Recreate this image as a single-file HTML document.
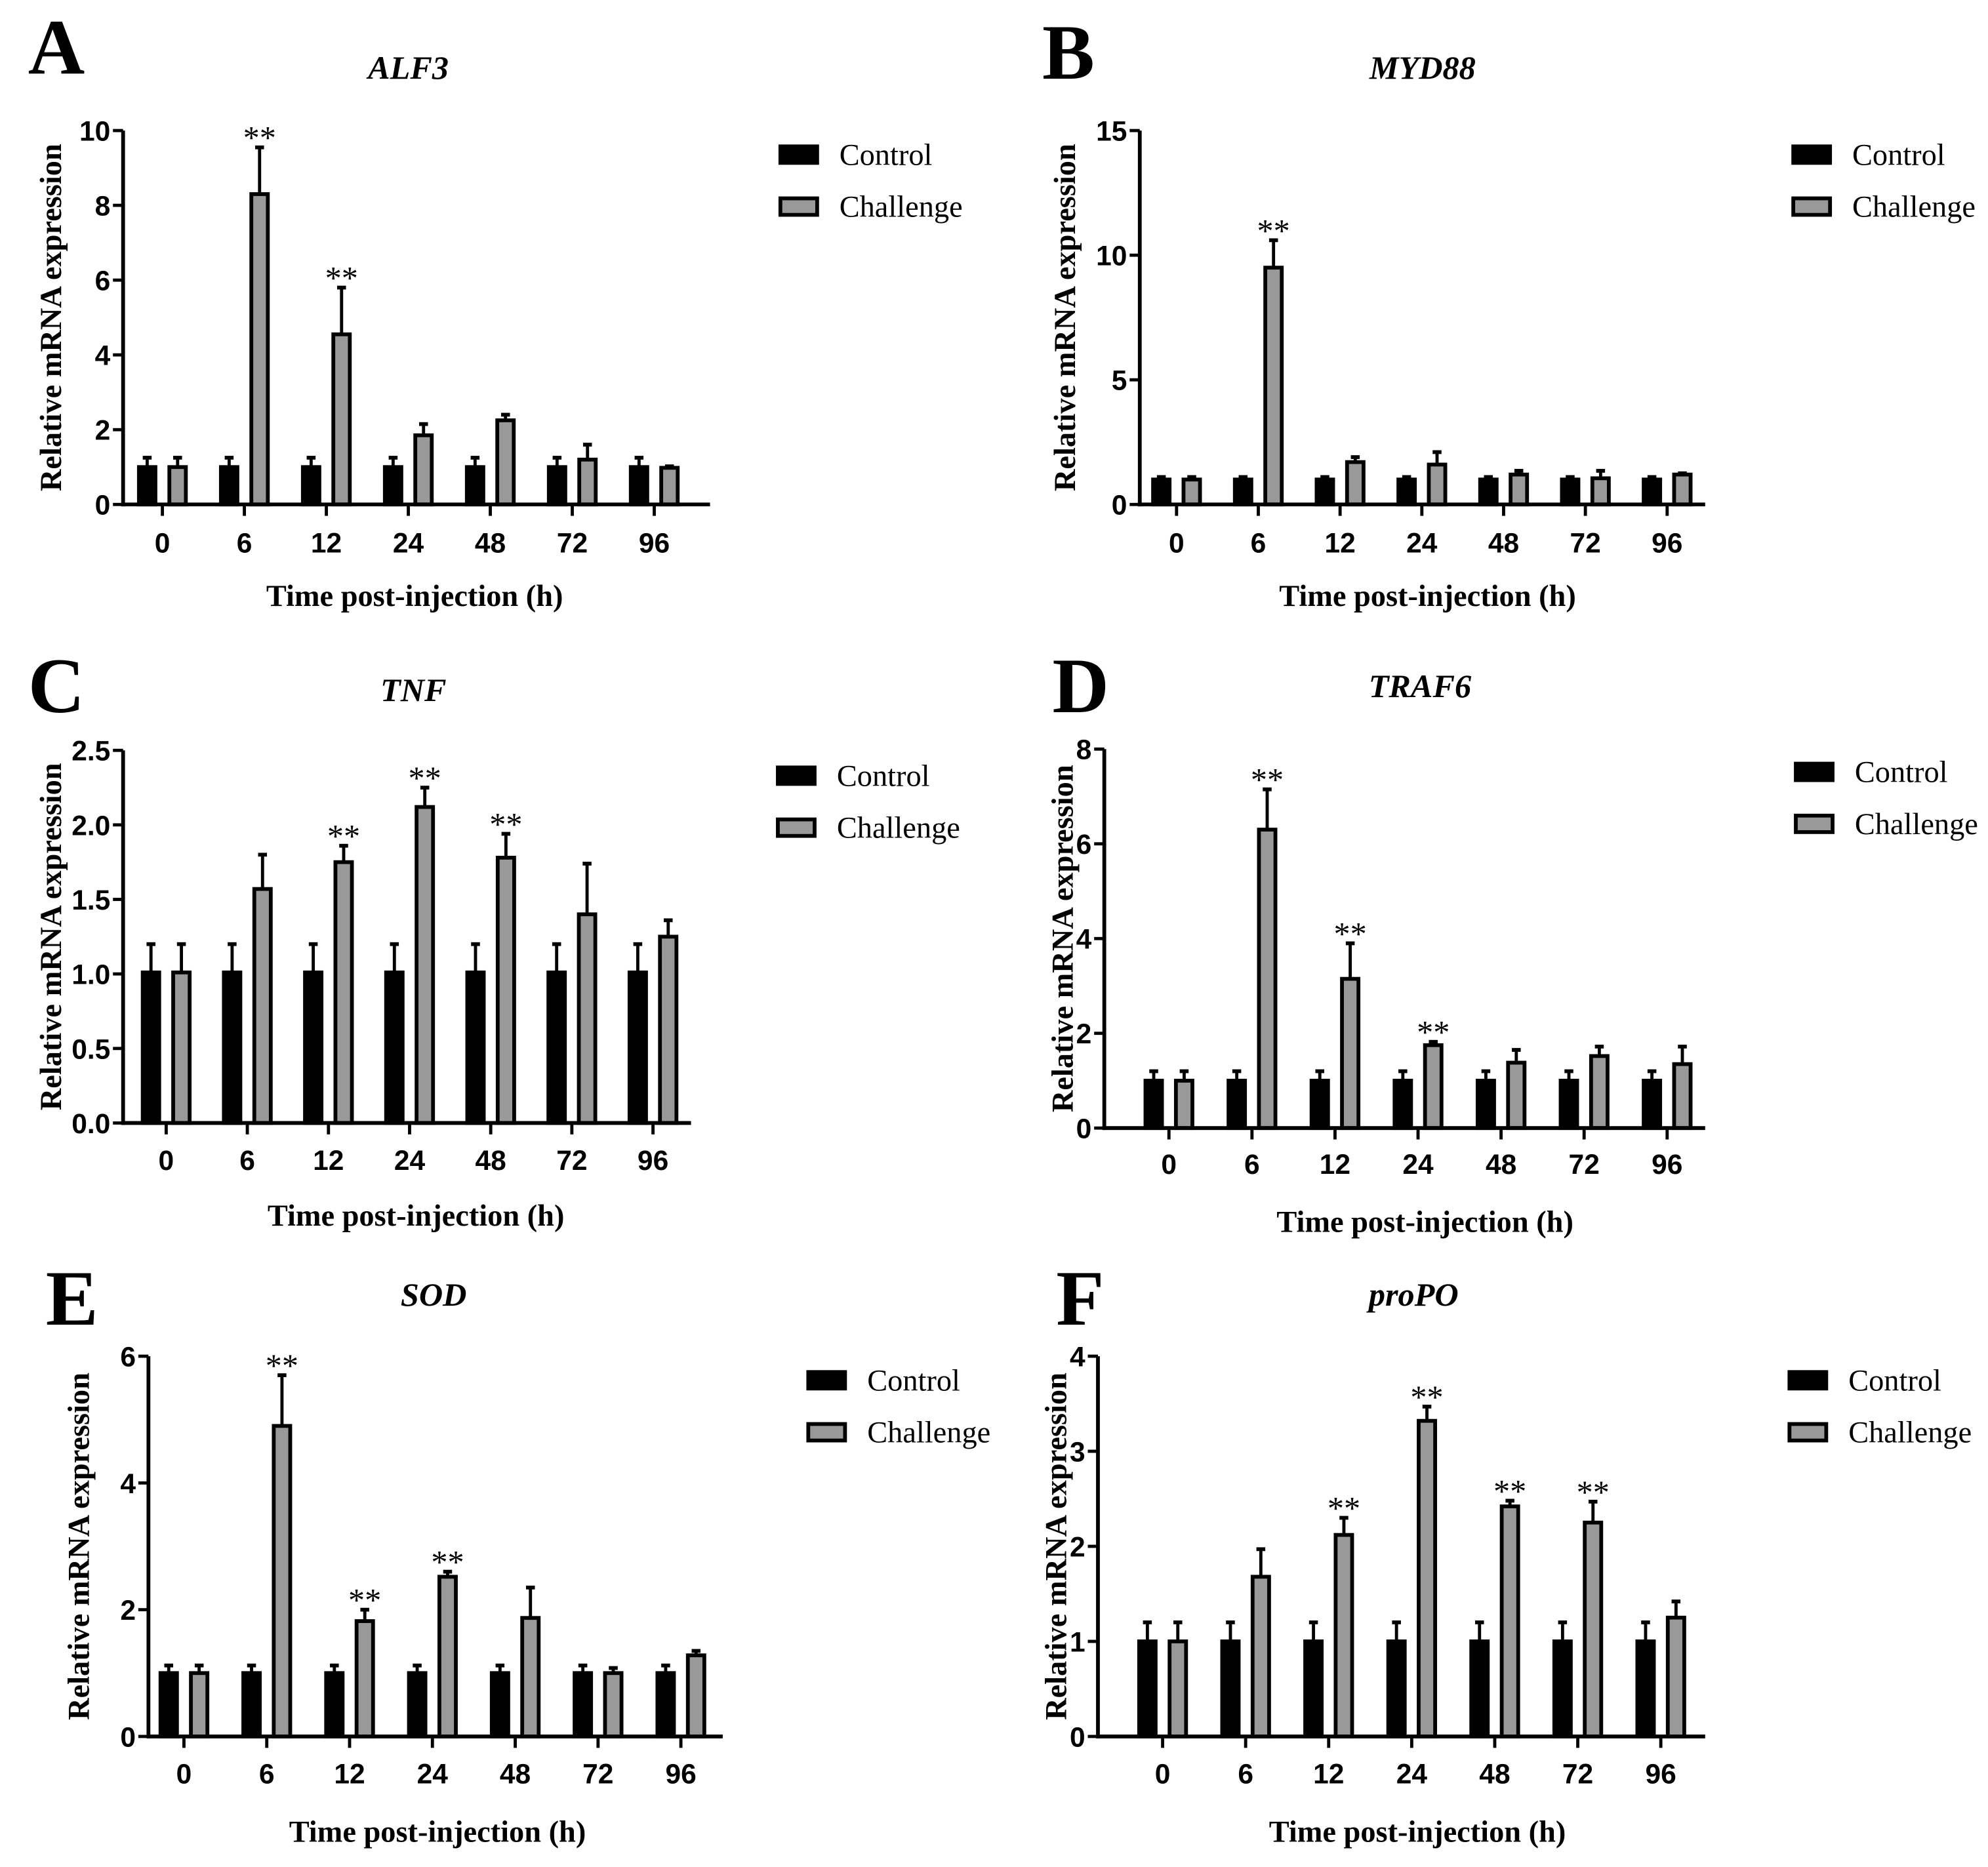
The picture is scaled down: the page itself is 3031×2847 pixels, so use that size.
<!DOCTYPE html>
<html><head><meta charset="utf-8"><style>
html,body{margin:0;padding:0;background:#fff}
svg{display:block}
</style></head><body>
<svg id="fig" xmlns="http://www.w3.org/2000/svg" width="3031" height="2847" viewBox="0 0 1568 1473">
<rect width="1568" height="1473" fill="#fff"/>
</svg>
<script>
const categories = ["0","6","12","24","48","72","96"];
const aCtrl=[1,1,1,1,1,1,1], aCtrlErr=[1.25,1.25,1.25,1.25,1.25,1.25,1.25];
const aChal=[1.0,8.3,4.55,1.85,2.25,1.2,0.98], aChalErr=[1.25,9.55,5.8,2.15,2.4,1.6,1.02];
const aStars=[false,true,true,false,false,false,false];
const bCtrl=[1,1,1,1,1,1,1], bCtrlErr=[1.1,1.1,1.1,1.1,1.1,1.1,1.1];
const bChal=[1.0,9.5,1.7,1.6,1.2,1.05,1.2], bChalErr=[1.1,10.6,1.9,2.1,1.35,1.35,1.25];
const bStars=[false,true,false,false,false,false,false];
const cCtrl=[1.01,1.01,1.01,1.01,1.01,1.01,1.01], cCtrlErr=[1.2,1.2,1.2,1.2,1.2,1.2,1.2];
const cChal=[1.01,1.57,1.75,2.12,1.78,1.4,1.25], cChalErr=[1.2,1.8,1.86,2.25,1.94,1.74,1.36];
const cStars=[false,false,true,true,true,false,false];
const dCtrl=[1,1,1,1,1,1,1], dCtrlErr=[1.2,1.2,1.2,1.2,1.2,1.2,1.2];
const dChal=[1.0,6.3,3.15,1.75,1.38,1.52,1.35], dChalErr=[1.2,7.15,3.9,1.82,1.65,1.72,1.72];
const dStars=[false,true,true,true,false,false,false];
const eCtrl=[1,1,1,1,1,1,1], eCtrlErr=[1.12,1.12,1.12,1.12,1.12,1.12,1.12];
const eChal=[1.0,4.9,1.82,2.52,1.87,1.0,1.28], eChalErr=[1.12,5.7,2.0,2.6,2.35,1.08,1.35];
const eStars=[false,true,true,true,false,false,false];
const fCtrl=[1,1,1,1,1,1,1], fCtrlErr=[1.2,1.2,1.2,1.2,1.2,1.2,1.2];
const fChal=[1.0,1.68,2.12,3.32,2.42,2.25,1.25], fChalErr=[1.2,1.97,2.3,3.47,2.48,2.47,1.42];
const fStars=[false,false,true,true,true,true,false];
const aTicks=[0,2,4,6,8,10], bTicks=[0,5,10,15], cTicks=[0,0.5,1,1.5,2,2.5];
const dTicks=[0,2,4,6,8], eTicks=[0,2,4,6], fTicks=[0,1,2,3,4];

const NS="http://www.w3.org/2000/svg";
const svg=document.getElementById('fig');
function mk(tag,attrs,parent,text){const e=document.createElementNS(NS,tag);for(const k in attrs)e.setAttribute(k,attrs[k]);if(text!==undefined)e.textContent=text;(parent||svg).appendChild(e);return e;}

const panels=[
 {id:'a',letter:'A',title:'ALF3',ax:97,yTop:103,yBot:398,xEnd:560,t0:128,t6:516,tx:322,ty:62,lx:22,ly:58,legX:614,legY:114,ylx:40,xtx:327,xty:478,tly:436,ctrl:aCtrl,ctrlErr:aCtrlErr,chal:aChal,chalErr:aChalErr,stars:aStars,ticks:aTicks,fmt:v=>String(v)},
 {id:'b',letter:'B',title:'MYD88',ax:899,yTop:103,yBot:398,xEnd:1345,t0:928,t6:1315,tx:1122,ty:62,lx:822,ly:62,legX:1413,legY:114,ylx:840,xtx:1126,xty:478,tly:436,ctrl:bCtrl,ctrlErr:bCtrlErr,chal:bChal,chalErr:bChalErr,stars:bStars,ticks:bTicks,fmt:v=>String(v)},
 {id:'c',letter:'C',title:'TNF',ax:97,yTop:592,yBot:886,xEnd:545,t0:131,t6:515,tx:326,ty:553,lx:22,ly:562,legX:612,legY:604,ylx:40,xtx:328,xty:967,tly:923,ctrl:cCtrl,ctrlErr:cCtrlErr,chal:cChal,chalErr:cChalErr,stars:cStars,ticks:cTicks,fmt:v=>v.toFixed(1)},
 {id:'d',letter:'D',title:'TRAF6',ax:871,yTop:591,yBot:890,xEnd:1345,t0:922,t6:1315,tx:1120,ty:550,lx:830,ly:562,legX:1415,legY:601,ylx:838,xtx:1124,xty:972,tly:926,ctrl:dCtrl,ctrlErr:dCtrlErr,chal:dChal,chalErr:dChalErr,stars:dStars,ticks:dTicks,fmt:v=>String(v)},
 {id:'e',letter:'E',title:'SOD',ax:117,yTop:1070,yBot:1370,xEnd:570,t0:145,t6:537,tx:342,ty:1030,lx:36,ly:1045,legX:636,legY:1081,ylx:62,xtx:345,xty:1453,tly:1407,ctrl:eCtrl,ctrlErr:eCtrlErr,chal:eChal,chalErr:eChalErr,stars:eStars,ticks:eTicks,fmt:v=>String(v)},
 {id:'f',letter:'F',title:'proPO',ax:866,yTop:1070,yBot:1370,xEnd:1345,t0:917,t6:1310,tx:1115,ty:1030,lx:833,ly:1045,legX:1410,legY:1081,ylx:833,xtx:1118,xty:1453,tly:1407,ctrl:fCtrl,ctrlErr:fCtrlErr,chal:fChal,chalErr:fChalErr,stars:fStars,ticks:fTicks,fmt:v=>String(v)}
];
const serif='"Liberation Serif", serif';
const narrow='"Liberation Sans Narrow", "Liberation Sans", sans-serif';

panels.forEach(p=>{
  const g=mk('g',{});
  
  
  const yMax=p.ticks[p.ticks.length-1];
  const y=v=>p.yBot-(v/yMax)*(p.yBot-p.yTop);
  const step=(p.t6-p.t0)/(categories.length-1);
  const x=i=>p.t0+i*step;
  let t=mk('text',{x:p.lx,y:p.ly,'font-family':serif,'font-weight':'bold','font-size':62},g,p.letter);
  
  
  t=mk('text',{x:p.tx,y:p.ty,'text-anchor':'middle','font-family':serif,'font-weight':'bold','font-style':'italic','font-size':26},g,p.title);
  
  
  categories.forEach((c,i)=>{
    const bw=13;
    const cx1=x(i)-12, cx2=x(i)+12;
    [[cx1,p.ctrl[i],p.ctrlErr[i],'#000','control'],[cx2,p.chal[i],p.chalErr[i],'#999','challenge']].forEach(([cx,v,ev,fill,nm])=>{
      const el=mk('line',{x1:cx,x2:cx,y1:y(v),y2:y(ev),stroke:'#000','stroke-width':2.5},g);
      
      
      mk('line',{x1:cx-3.5,x2:cx+3.5,y1:y(ev),y2:y(ev),stroke:'#000','stroke-width':3},g);
      const r=mk('rect',{x:cx-bw/2,y:y(v),width:bw,height:p.yBot-y(v),fill:fill,stroke:'#000','stroke-width':3},g);
      
      
    });
    if(p.stars[i]){
      const s=mk('text',{x:cx2,y:y(p.chalErr[i])+1,'text-anchor':'middle','font-family':serif,'font-size':26},g,'**');
      
      
    }
    mk('line',{x1:x(i),x2:x(i),y1:p.yBot,y2:p.yBot+9,stroke:'#000','stroke-width':2.5},g);
    const tl=mk('text',{x:x(i),y:p.tly,'text-anchor':'middle','font-family':narrow,'font-weight':'bold','font-size':22},g,c);
    
    
  });
  let ax=mk('line',{x1:p.ax,x2:p.ax,y1:p.yTop,y2:p.yBot+1.5,stroke:'#000','stroke-width':3},g);
  
  
  ax=mk('line',{x1:p.ax-1.5,x2:p.xEnd,y1:p.yBot,y2:p.yBot,stroke:'#000','stroke-width':3},g);
  
  
  p.ticks.forEach(v=>{
    mk('line',{x1:p.ax-8,x2:p.ax,y1:y(v),y2:y(v),stroke:'#000','stroke-width':2.5},g);
    const tl=mk('text',{x:p.ax-10,y:y(v)+8,'text-anchor':'end','font-family':narrow,'font-weight':'bold','font-size':22},g,p.fmt(v));
    
    
  });
  const ymid=(p.yTop+p.yBot)/2;
  t=mk('text',{x:p.ylx,y:ymid,'text-anchor':'middle','font-family':serif,'font-weight':'bold','font-size':24,transform:`rotate(-90 ${p.ylx} ${ymid})`,dy:8},g,'Relative mRNA expression');
  
  
  t=mk('text',{x:p.xtx,y:p.xty,'text-anchor':'middle','font-family':serif,'font-weight':'bold','font-size':24},g,'Time post-injection (h)');
  
  
  [['Control','#000',0],['Challenge','#999',41]].forEach(([lab,fill,dy])=>{
    const r=mk('rect',{x:p.legX+1.5,y:p.legY+dy+1.5,width:29,height:13,fill:fill,stroke:'#000','stroke-width':3},g);
    
    
    const lt=mk('text',{x:p.legX+48,y:p.legY+dy+16,'font-family':serif,'font-size':24},g,lab);
    
    
  });
});
</script>
</body></html>
